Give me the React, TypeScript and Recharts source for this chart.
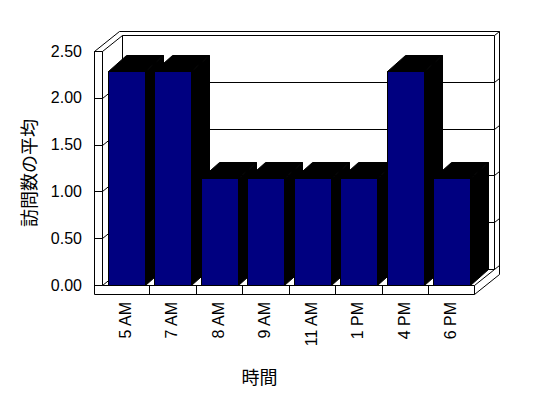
import { BarChart, Bar, XAxis, YAxis, CartesianGrid, ReferenceArea } from 'recharts'

const hours = ['5 AM', '7 AM', '8 AM', '9 AM', '11 AM', '1 PM', '4 PM', '6 PM']
const avgVisits = [2.29, 2.29, 1.14, 1.14, 1.14, 1.14, 2.29, 1.14]
const valueTicks = [0, 0.5, 1, 1.5, 2, 2.5]

const NAVY = '#000080'
const DEPTH = { dx: 20, dy: -16 }      // front plane -> back wall
const BAR_DEPTH = { dx: 18, dy: -16 }
const SLAB = { dx: 5, dy: -4 }         // back wall thickness
const WALL = 8                          // left wall thickness seen from front
const FLOOR = 9                         // floor thickness
const LATIN = '"Liberation Sans", Arial, sans-serif'
const CJK = '"Noto Sans CJK JP", sans-serif'

const data = hours.map((h, i) => ({ hour: h, visits: avgVisits[i] }))

const px = (v: number) => Math.round(v) + 0.5

// gridline: tick across left wall face, diagonal along left wall, line on back wall, notch on its edge
const gridLine = (p: any) => {
  const y = px(p.y1), l = px(p.x1), r = px(p.x2)
  return (
    <path key={p.key} fill="none" stroke="#000"
      d={`M${l - WALL},${y}H${l}L${l + DEPTH.dx},${y + DEPTH.dy}H${r + DEPTH.dx}l${SLAB.dx},${SLAB.dy}`} />
  )
}

const Frame = (p: any) => {
  const l = px(p.x), t = px(p.y), r = px(p.x + p.width), b = px(p.y + p.height)
  const ox = DEPTH.dx + SLAB.dx, oy = DEPTH.dy + SLAB.dy
  const band = (r - l) / hours.length
  return (
    <g fill="none" stroke="#000">
      <defs>
        <pattern id="dither" x="0" y="0" width="2" height="2" patternUnits="userSpaceOnUse">
          <rect x="0" y="0" width="2" height="2" fill="#000" shapeRendering="crispEdges" />
          <rect x="0" y="0" width="1" height="1" fill={NAVY} shapeRendering="crispEdges" />
          <rect x="1" y="1" width="1" height="1" fill={NAVY} shapeRendering="crispEdges" />
        </pattern>
      </defs>
      <path d={`M${l - WALL},${b + FLOOR}V${t}H${l}V${b}H${r}`} />
      <path d={`M${l - WALL},${t}l${ox},${oy}H${r + ox}V${b + FLOOR + oy}L${r},${b + FLOOR}H${l - WALL}`} />
      <path d={`M${r},${b}v${FLOOR}M${r},${b}l${DEPTH.dx},${DEPTH.dy}`} />
      <path d={`M${l + DEPTH.dx},${t + DEPTH.dy}V${b + DEPTH.dy}M${r + DEPTH.dx},${t + DEPTH.dy}V${b + DEPTH.dy}`} />
      {hours.slice(1).map((h, i) => (
        <path key={h} d={`M${px(l + band * (i + 1))},${b}v${FLOOR}`} />
      ))}
    </g>
  )
}

const Bar3D = (p: any) => {
  const x = px(p.x + 1), y = px(p.y), r = px(p.x + 1 + p.width), b = px(p.y + p.height)
  const { dx, dy } = BAR_DEPTH
  return (
    <g stroke="#000" strokeWidth={1}>
      <polygon points={`${r},${y} ${r + dx},${y + dy} ${r + dx},${b + dy} ${r},${b}`} fill="url(#dither) #000040" />
      <polygon points={`${x},${y} ${x + dx},${y + dy} ${r + dx},${y + dy} ${r},${y}`} fill="url(#dither) #000040" />
      <rect x={x} y={y} width={r - x} height={b - y} fill={NAVY} />
    </g>
  )
}

const HourTick = (p: any) => (
  <text x={p.x} y={p.y} transform={`rotate(-90 ${p.x} ${p.y})`} textAnchor="end" dy="0.35em"
    fontSize={16} fontFamily={LATIN} fill="#000">
    {p.payload.value}
  </text>
)

const YTitle = (p: any) => {
  const { x, y, height } = p.viewBox
  const cx = x - 14, cy = y + height / 2 + 5
  return (
    <text x={cx} y={cy} transform={`rotate(-90 ${cx} ${cy})`} textAnchor="middle" dominantBaseline="central"
      fontSize={18} fontFamily={CJK} fill="#000">訪問数の平均</text>
  )
}

const XTitle = (p: any) => {
  const { x, y, width } = p.viewBox
  return (
    <text x={x + width / 2 - 28.5} y={y + 91} textAnchor="middle" dominantBaseline="central"
      fontSize={18} fontFamily={CJK} fill="#000">時間</text>
  )
}

export default function App() {
  return (
    <div style={{ position: 'absolute', left: 0, top: 0, background: '#fff' }}>
      <BarChart width={548} height={398} data={data} barCategoryGap="10%"
        margin={{ top: 51, right: 74, bottom: 33, left: 42 }}>
        <CartesianGrid horizontal={gridLine} vertical={false} />
        <ReferenceArea y1={0} y2={2.5} ifOverflow="visible" shape={Frame} zIndex={-90} />
        <XAxis dataKey="hour" interval={0} axisLine={false} tickLine={false} tickSize={0} tickMargin={17}
          height={80} tick={HourTick} label={XTitle} />
        <YAxis domain={[0, 2.5]} ticks={valueTicks} interval={0} axisLine={false} tickLine={false}
          tickSize={0} tickMargin={20} width={60} tickFormatter={(v: number) => v.toFixed(2)}
          tick={{ fill: '#000', fontSize: 16, fontFamily: LATIN }} label={YTitle} />
        <Bar dataKey="visits" shape={Bar3D} isAnimationActive={false} />
      </BarChart>
    </div>
  )
}
